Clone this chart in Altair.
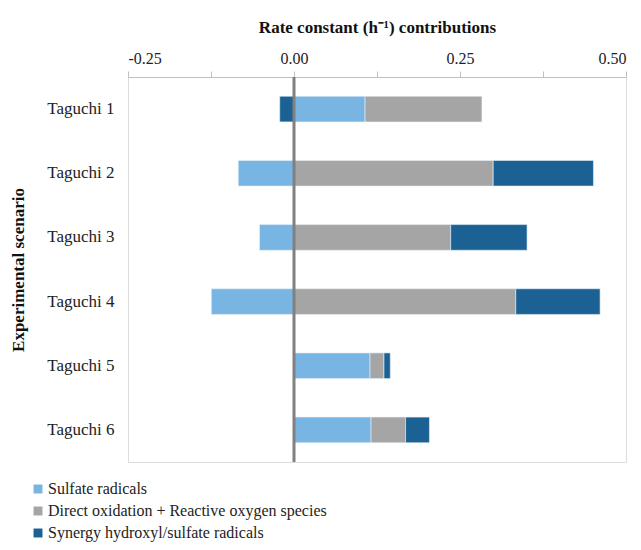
import altair as alt
import pandas as pd

scenarios = ["Taguchi 1", "Taguchi 2", "Taguchi 3", "Taguchi 4", "Taguchi 5", "Taguchi 6"]
sulfate = [0.107, -0.084, -0.052, -0.1245, 0.1145, 0.116]
direct = [0.176, 0.300, 0.236, 0.334, 0.021, 0.052]
synergy = [-0.0215, 0.151, 0.115, 0.127, 0.0095, 0.036]
series = ["Sulfate radicals", "Direct oxidation + Reactive oxygen species", "Synergy hydroxyl/sulfate radicals"]
colors = ["#78B5E3", "#A5A5A5", "#1C6194"]
tick_values = [-0.25, -0.125, 0.0, 0.125, 0.25, 0.375, 0.5]

rows = []
for i, s in enumerate(scenarios):
    for k, (name, vals) in enumerate(zip(series, [sulfate, direct, synergy])):
        rows.append({"scenario": s, "series": name, "value": vals[i], "order": k})
df = pd.DataFrame(rows)

FONT = "Liberation Serif"

x_axis = alt.Axis(orient="top", values=tick_values, title="Rate constant (h⁻¹) contributions",
                  labelExpr="abs(datum.value*4 - round(datum.value*4)) < 0.001 ? replace(format(datum.value, '.2f'), '\u2212', '-') : ''",
                  grid=False, domainColor="#BFBFBF", tickColor="#BFBFBF", tickSize=6,
                  labelPadding=5, titleFontSize=17, titlePadding=14)
x_scale = alt.Scale(domain=[-0.25, 0.5], nice=False, zero=False)

bars = alt.Chart(df).mark_bar(stroke="#E8F1F8", strokeWidth=0.6).encode(
    y=alt.Y("scenario:N", sort=scenarios,
            scale=alt.Scale(paddingInner=0.6, paddingOuter=0.3),
            axis=alt.Axis(title="Experimental scenario", ticks=False, domain=False,
                          labelFontSize=17, labelPadding=14, titleFontSize=17, titlePadding=19)),
    x=alt.X("value:Q", stack="zero", scale=x_scale, axis=x_axis),
    color=alt.Color("series:N", scale=alt.Scale(domain=series, range=colors),
                    legend=alt.Legend(title=None, orient="none", legendX=-98, legendY=404,
                                      symbolType="square", symbolSize=80, symbolStrokeWidth=0,
                                      labelFontSize=16, labelLimit=500,
                                      rowPadding=6, labelOffset=2)),
    order=alt.Order("order:Q"),
)

zero_df = pd.DataFrame({"x": [0.0]})
zero_line = alt.Chart(zero_df).mark_rule(color="#808080", strokeWidth=3).encode(
    x=alt.X("x:Q", scale=x_scale, axis=x_axis))

chart = alt.layer(bars, zero_line).properties(
    width=498, height=385,
    autosize=alt.AutoSizeParams(type="none"),
    padding={"left": 120, "top": 69, "right": 5, "bottom": 80},
).configure_view(stroke="#BFBFBF", strokeWidth=1.2).configure(
    background="white", font=FONT
).configure_axis(
    labelFont=FONT, labelFontSize=16, labelColor="#222222",
    titleFont=FONT, titleFontWeight="bold", titleColor="#111111"
).configure_legend(
    labelFont=FONT, labelColor="#222222"
)

chart.save("out.html", embed_options={"renderer": "svg", "actions": False})
